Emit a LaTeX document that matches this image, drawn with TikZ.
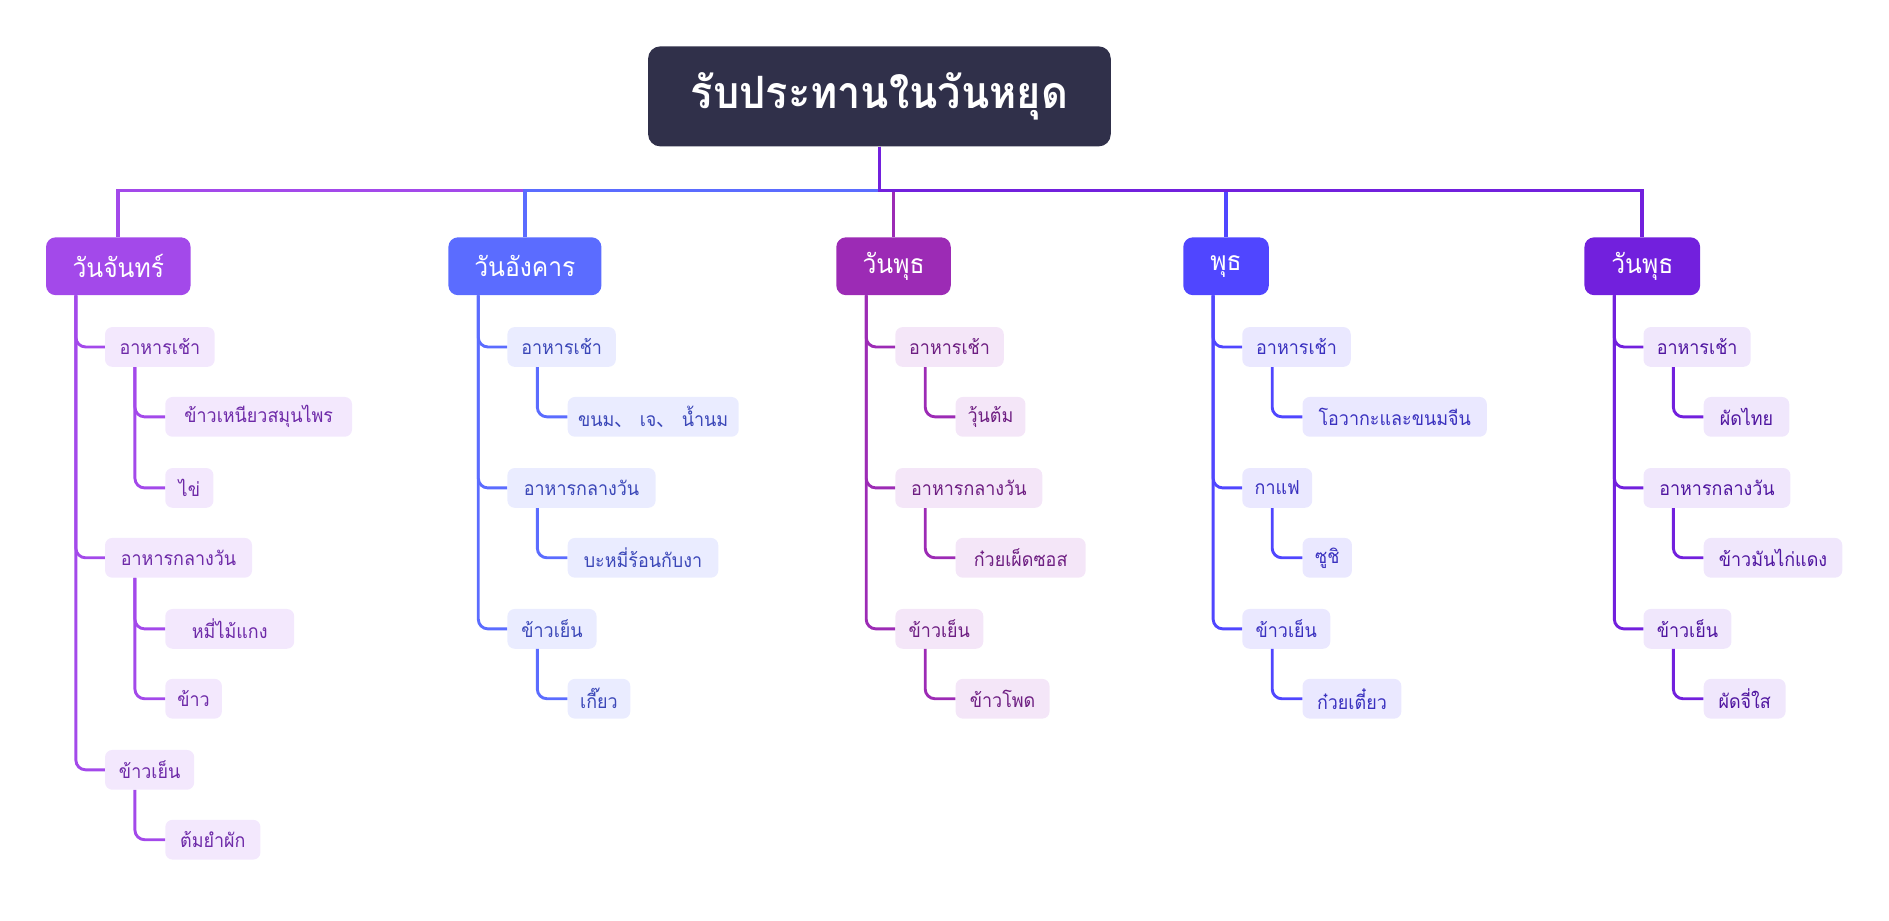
\documentclass[tikz,border=0pt]{standalone}
\usepackage{fontspec}
\setmainfont[Script=Thai, FakeStretch=0.93]{Loma}
\newfontfamily\cjk{Noto Sans CJK SC}
\usepackage{tikz}
\usetikzlibrary{positioning}
\usepackage{xcolor}
\definecolor{rootbg}{HTML}{30304A}
\definecolor{purpleC}{HTML}{A349EA}
\definecolor{purpleL}{HTML}{F3E8FD}
\definecolor{purpleD}{HTML}{6E2AA8}
\definecolor{blueC}{HTML}{5B6CFF}
\definecolor{blueL}{HTML}{EAECFF}
\definecolor{blueD}{HTML}{3B47B8}
\definecolor{magC}{HTML}{9C2BB5}
\definecolor{magL}{HTML}{F4E6F8}
\definecolor{magD}{HTML}{6E1E82}
\definecolor{indC}{HTML}{5046FF}
\definecolor{indL}{HTML}{EAE8FF}
\definecolor{indD}{HTML}{3A31BF}
\definecolor{vioC}{HTML}{7220DD}
\definecolor{vioL}{HTML}{F0E7FC}
\definecolor{vioD}{HTML}{5016A0}

\begin{document}
\begin{tikzpicture}[x=1pt, y=-1pt,
    root/.style={rectangle, rounded corners=10pt, fill=rootbg, text=white, minimum width=384,
                 minimum height=83, font=\fontsize{37}{42}\selectfont\bfseries},
    day/.style={rectangle, rounded corners=8pt, anchor=west, text=white, minimum height=48,
                font=\fontsize{22}{26}\selectfont},
    meal/.style={rectangle, rounded corners=6pt, anchor=west, minimum height=33, inner xsep=6pt,
                 font=\fontsize{16}{19}\selectfont},
    mealP/.style={meal, fill=purpleL, text=purpleD},
    mealB/.style={meal, fill=blueL, text=blueD},
    mealM/.style={meal, fill=magL, text=magD},
    mealI/.style={meal, fill=indL, text=indD},
    mealV/.style={meal, fill=vioL, text=vioD},
    trunk/.style={line width=3pt},
    branch/.style={line width=2.4pt, rounded corners=8pt}
]
\useasboundingbox (0,0) rectangle (1568,764);

% Root and days
\node[root] (root) at (730,80) {รับประทานในวันหยุด};
\node[day, fill=purpleC, minimum width=120] (d1) at (38,221) {วันจันทร์};
\node[day, fill=blueC, minimum width=127] (d2) at (372,221) {วันอังคาร};
\node[day, fill=magC, minimum width=95] (d3) at (694,221) {วันพุธ};
\node[day, fill=indC, minimum width=71] (d4) at (982,221) {พุธ};
\node[day, fill=vioC, minimum width=96] (d5) at (1315,221) {วันพุธ};
\coordinate (bar) at (0,158);

% Column 1
\node[mealP, minimum width=91] (d1b) at (87,288) {อาหารเช้า};
\node[mealP, minimum width=155] (d1b1) at (137,346) {ข้าวเหนียวสมุนไพร};
\node[mealP, minimum width=40] (d1b2) at (137,405) {ไข่};
\node[mealP, minimum width=122] (d1l) at (87,463) {อาหารกลางวัน};
\node[mealP, minimum width=107] (d1l1) at (137,522) {หมี่ไม้แกง};
\node[mealP, minimum width=47] (d1l2) at (137,580) {ข้าว};
\node[mealP, minimum width=74] (d1d) at (87,639) {ข้าวเย็น};
\node[mealP, minimum width=79] (d1d1) at (137,697) {ต้มยำผัก};

% Column 2
\node[mealB, minimum width=90] (d2b) at (421,288) {อาหารเช้า};
\node[mealB, minimum width=142] (d2b1) at (471,346) {ขนม{\cjk 、} เจ{\cjk 、} น้ำนม};
\node[mealB, minimum width=123] (d2l) at (421,405) {อาหารกลางวัน};
\node[mealB, minimum width=125] (d2l1) at (471,463) {บะหมี่ร้อนกับงา};
\node[mealB, minimum width=74] (d2d) at (421,522) {ข้าวเย็น};
\node[mealB, minimum width=52] (d2d1) at (471,580) {เกี๊ยว};

% Column 3
\node[mealM, minimum width=90] (d3b) at (743,288) {อาหารเช้า};
\node[mealM, minimum width=58] (d3b1) at (793,346) {วุ้นต้ม};
\node[mealM, minimum width=122] (d3l) at (743,405) {อาหารกลางวัน};
\node[mealM, minimum width=108] (d3l1) at (793,463) {ก๋วยเผ็ดซอส};
\node[mealM, minimum width=73] (d3d) at (743,522) {ข้าวเย็น};
\node[mealM, minimum width=78] (d3d1) at (793,580) {ข้าวโพด};

% Column 4
\node[mealI, minimum width=90] (d4b) at (1031,288) {อาหารเช้า};
\node[mealI, minimum width=153] (d4b1) at (1081,346) {โอวากะและขนมจีน};
\node[mealI, minimum width=58] (d4l) at (1031,405) {กาแฟ};
\node[mealI, minimum width=41] (d4l1) at (1081,463) {ซูชิ};
\node[mealI, minimum width=73] (d4d) at (1031,522) {ข้าวเย็น};
\node[mealI, minimum width=82] (d4d1) at (1081,580) {ก๋วยเตี๋ยว};

% Column 5
\node[mealV, minimum width=89] (d5b) at (1364,288) {อาหารเช้า};
\node[mealV, minimum width=71] (d5b1) at (1414,346) {ผัดไทย};
\node[mealV, minimum width=122] (d5l) at (1364,405) {อาหารกลางวัน};
\node[mealV, minimum width=115] (d5l1) at (1414,463) {ข้าวมันไก่แดง};
\node[mealV, minimum width=73] (d5d) at (1364,522) {ข้าวเย็น};
\node[mealV, minimum width=68] (d5d1) at (1414,580) {ผัดจี่ใส};

% Root to days
\draw[trunk, purpleC] (root.south) -- (root.south |- bar) -| (d1.north);
\draw[trunk, blueC] (root.south) -- (root.south |- bar) -| (d2.north);
\draw[trunk, magC] (root.south) -- (root.south |- bar) -| (d3.north);
\draw[trunk, indC] (root.south) -- (root.south |- bar) -| (d4.north);
\draw[trunk, vioC] (root.south) -- (root.south |- bar) -| (d5.north);

% Days to meals
\draw[branch, purpleC] ([xshift=25]d1.south west) |- (d1b.west);
\draw[branch, purpleC] ([xshift=25]d1.south west) |- (d1l.west);
\draw[branch, purpleC] ([xshift=25]d1.south west) |- (d1d.west);
\draw[branch, purpleC] ([xshift=25]d1b.south west) |- (d1b1.west);
\draw[branch, purpleC] ([xshift=25]d1b.south west) |- (d1b2.west);
\draw[branch, purpleC] ([xshift=25]d1l.south west) |- (d1l1.west);
\draw[branch, purpleC] ([xshift=25]d1l.south west) |- (d1l2.west);
\draw[branch, purpleC] ([xshift=25]d1d.south west) |- (d1d1.west);

\draw[branch, blueC] ([xshift=25]d2.south west) |- (d2b.west);
\draw[branch, blueC] ([xshift=25]d2.south west) |- (d2l.west);
\draw[branch, blueC] ([xshift=25]d2.south west) |- (d2d.west);
\draw[branch, blueC] ([xshift=25]d2b.south west) |- (d2b1.west);
\draw[branch, blueC] ([xshift=25]d2l.south west) |- (d2l1.west);
\draw[branch, blueC] ([xshift=25]d2d.south west) |- (d2d1.west);

\draw[branch, magC] ([xshift=25]d3.south west) |- (d3b.west);
\draw[branch, magC] ([xshift=25]d3.south west) |- (d3l.west);
\draw[branch, magC] ([xshift=25]d3.south west) |- (d3d.west);
\draw[branch, magC] ([xshift=25]d3b.south west) |- (d3b1.west);
\draw[branch, magC] ([xshift=25]d3l.south west) |- (d3l1.west);
\draw[branch, magC] ([xshift=25]d3d.south west) |- (d3d1.west);

\draw[branch, indC] ([xshift=25]d4.south west) |- (d4b.west);
\draw[branch, indC] ([xshift=25]d4.south west) |- (d4l.west);
\draw[branch, indC] ([xshift=25]d4.south west) |- (d4d.west);
\draw[branch, indC] ([xshift=25]d4b.south west) |- (d4b1.west);
\draw[branch, indC] ([xshift=25]d4l.south west) |- (d4l1.west);
\draw[branch, indC] ([xshift=25]d4d.south west) |- (d4d1.west);

\draw[branch, vioC] ([xshift=25]d5.south west) |- (d5b.west);
\draw[branch, vioC] ([xshift=25]d5.south west) |- (d5l.west);
\draw[branch, vioC] ([xshift=25]d5.south west) |- (d5d.west);
\draw[branch, vioC] ([xshift=25]d5b.south west) |- (d5b1.west);
\draw[branch, vioC] ([xshift=25]d5l.south west) |- (d5l1.west);
\draw[branch, vioC] ([xshift=25]d5d.south west) |- (d5d1.west);
\end{tikzpicture}
\end{document}
